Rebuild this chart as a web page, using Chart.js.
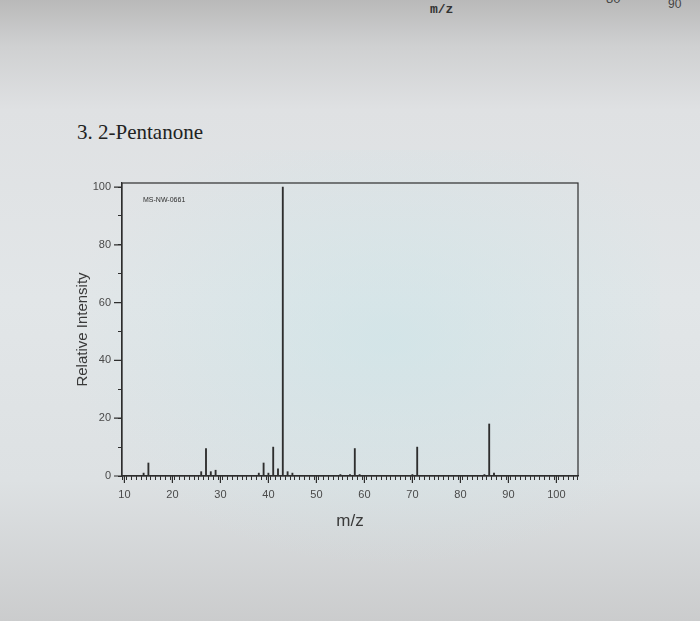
<!DOCTYPE html>
<html>
<head>
<meta charset="utf-8">
<script src="https://cdn.jsdelivr.net/npm/chart.js@4"></script>
<style>
    html, body { margin: 0; padding: 0; }
    body {
        width: 700px; height: 621px; overflow: hidden; position: relative;
        background: linear-gradient(180deg, #b9b9b9 0px, #cfd0d1 45px, #dfe1e3 110px, #e2e6e8 300px, #dde1e3 480px, #cbcccd 621px);
    }
    #glow {
        position: absolute; left: 60px; top: 150px; width: 600px; height: 420px;
        background: radial-gradient(ellipse at 55% 45%, rgba(200,228,232,0.55), rgba(220,230,232,0) 70%);
    }
    .txt { position: absolute; color: #222; white-space: nowrap; }
    #title { left: 77px; top: 120px; font: 21px "Liberation Serif", serif; }
    #oldx { left: 430px; top: 2px; font: bold 13px "Liberation Mono", monospace; color: #333; }
    #old80 { left: 606px; top: -9px; font: 13px "Liberation Sans", sans-serif; color: #444; }
    #old90 { left: 668px; top: -3px; font: 12px "Liberation Sans", sans-serif; color: #444; }
    #ms { position: absolute; left: 0; top: 0; }
</style>
</head>
<body>
<div id="glow"></div>
<div class="txt" id="oldx">m/z</div>
<div class="txt" id="old80">80</div>
<div class="txt" id="old90">90</div>
<div class="txt" id="title">3. 2-Pentanone</div>
<canvas id="ms" width="700" height="621"></canvas>
<script>
// 2-펜타논 질량 스펙트럼 (사진에서 읽은 값)
const mz = [14, 15, 26, 27, 28, 29, 38, 39, 40, 41, 42, 43, 44, 45, 55, 57, 58, 59, 70, 71, 85, 86, 87];
const intensity = [1, 4.5, 1.5, 9.5, 1.5, 2, 1, 4.5, 1, 10, 2.5, 100, 1.5, 1, 0.5, 0.5, 9.5, 0.5, 0.5, 10, 0.5, 18, 1];
const xTicks = [10, 20, 30, 40, 50, 60, 70, 80, 90, 100];
const yTicks = [0, 20, 40, 60, 80, 100];
const specId = "MS-NW-0661";

const ink = "#2e2e2e";
const labelInk = "#4a4a4a";

// 테두리 + 긴 눈금 + 스펙트럼 번호
const framePlugin = {
    id: "frame",
    afterDraw(chart) {
        const ctx = chart.ctx;
        const a = chart.chartArea;
        const xs = chart.scales.x;
        const ys = chart.scales.y;
        ctx.save();
        ctx.strokeStyle = ink;
        ctx.lineWidth = 1.2;
        ctx.strokeRect(a.left, a.top, a.right - a.left, a.bottom - a.top);
        ctx.beginPath();
        xTicks.forEach(v => {
            const px = xs.getPixelForValue(v);
            ctx.moveTo(px, a.bottom);
            ctx.lineTo(px, a.bottom + 7);
        });
        yTicks.forEach(v => {
            const py = ys.getPixelForValue(v);
            ctx.moveTo(a.left, py);
            ctx.lineTo(a.left - 8, py);
        });
        ctx.stroke();
        ctx.fillStyle = ink;
        ctx.font = "7px 'Liberation Sans', sans-serif";
        ctx.fillText(specId, a.left + 21, a.top + 19);
        ctx.restore();
    }
};

new Chart(document.getElementById("ms"), {
    type: "bar",
    data: {
        datasets: [{
            data: mz.map((m, i) => ({ x: m, y: intensity[i] })),
            backgroundColor: ink,
            barThickness: 1.2,
        }]
    },
    options: {
        responsive: false,
        animation: false,
        layout: { padding: { left: 74, top: 183, right: 122, bottom: 85 } },
        plugins: { legend: { display: false }, tooltip: { enabled: false } },
        scales: {
            x: {
                type: "linear",
                min: 10,
                max: 104,
                afterFit: s => { s.height = 60; },
                grid: { drawOnChartArea: false, tickLength: 4, color: ink, tickWidth: 1 },
                border: { color: ink, width: 1.2 },
                ticks: {
                    stepSize: 1,
                    includeBounds: false,
                    autoSkip: false,
                    maxRotation: 0,
                    padding: 8,
                    color: labelInk,
                    font: { family: "'Liberation Sans', sans-serif", size: 11 },
                    callback: v => (xTicks.includes(v) ? String(v) : ""),
                },
                title: {
                    display: true,
                    text: "m/z",
                    color: "#3a3a3a",
                    padding: { top: 0, bottom: 4 },
                    font: { family: "'Liberation Sans', sans-serif", size: 17 },
                },
            },
            y: {
                min: 0,
                max: 101.4,
                afterFit: s => { s.width = 48; },
                grid: { drawOnChartArea: false, tickLength: 4, color: ink },
                border: { color: ink, width: 1.2 },
                ticks: {
                    stepSize: 10,
                    includeBounds: false,
                    autoSkip: false,
                    padding: 7,
                    color: labelInk,
                    font: { family: "'Liberation Sans', sans-serif", size: 11 },
                    callback: v => (yTicks.includes(v) ? String(v) : ""),
                },
                title: {
                    display: true,
                    text: "Relative Intensity",
                    color: "#3a3a3a",
                    padding: { top: 0, bottom: 0 },
                    font: { family: "'Liberation Sans', sans-serif", size: 15 },
                },
            },
        },
    },
    plugins: [framePlugin],
});
</script>
</body>
</html>
